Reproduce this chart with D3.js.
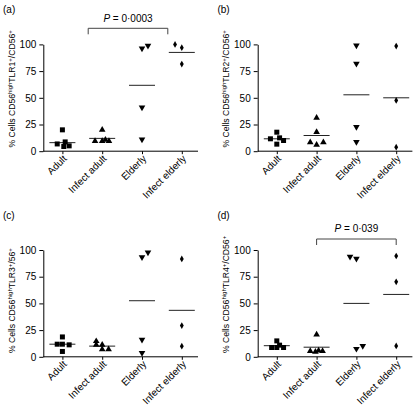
<!DOCTYPE html>
<html><head><meta charset="utf-8">
<script src="https://cdn.jsdelivr.net/npm/d3@7"></script>
<style>
body{margin:0;background:#fff;}
svg{display:block;font-family:"Liberation Sans",Arial,sans-serif;}
</style></head>
<body><svg id="c" width="417" height="413"></svg>
<script>
const categories = ["Adult", "Infect adult", "Elderly", "Infect elderly"];
const yTicks = [0, 25, 50, 75, 100];
const panelLabels = ["(a)", "(b)", "(c)", "(d)"];
const receptorLabels = ["TLR1", "TLR2", "TLR3", "TLR4"];
const denomLabels = ["CD56", "CD56", "56", "CD56"];

// values per category, panel a..d
const valuesA = [[20, 6.8, 8.7, 4.4, 5], [20, 9.4, 9.4, 10.6, 9.4], [96.3, 98.8, 41, 11], [100, 96.9, 81.6]];
const valuesB = [[17.8, 11.6, 12.5, 6.6, 10], [31.3, 17.8, 8.4, 5.9, 8.4], [99, 82, 22.8, 8.8], [98.4, 47.5, 3.8]];
const valuesC = [[18.6, 11.8, 11.8, 11.2, 5], [14.6, 11.2, 11.2, 6.9, 6.9], [93.2, 97.8, 16.1, 3.7], [91.6, 29.2, 9.9]];
const valuesD = [[14.9, 8.7, 8.7, 10.9, 8.7], [20.8, 5.3, 4.7, 5.9, 5.3], [93.8, 91.9, 7.5, 10.2], [94.4, 70.2, 10.2]];
// horizontal jitter in units of category spacing
const jitterA = [[0, -0.13, 0.07, 0.035, 0.17], [0, -0.18, 0, 0.08, 0.17], [0, 0.15, 0, 0], [-0.17, 0, 0]];
const jitterB = [[0, -0.16, 0.07, 0, 0.17], [0, 0, -0.16, 0, 0.17], [0, 0, 0, 0], [0, 0, 0]];
const jitterC = [[0, -0.13, 0, 0.17, 0], [-0.15, -0.15, 0, 0, 0.16], [0, 0.15, 0, 0], [0, 0, 0]];
const jitterD = [[0, -0.13, 0, 0.07, 0.17], [0, -0.16, -0.03, 0.05, 0.15], [-0.16, 0, 0, 0.16], [0, 0, 0]];
// group means (horizontal lines)
const meansA = [8, 12, 61.7, 92.5];
const meansB = [11.6, 14.7, 52.8, 50];
const meansC = [11.8, 10, 52.5, 43.5];
const meansD = [10.4, 9, 50, 58.4];
// significance brackets: [fromCategory, toCategory, text] or null
const sigA = ["Infect adult", "Infect elderly", "0·0003"];
const sigD = ["Infect adult", "Infect elderly", "0·039"];

const panels = [
  {values: valuesA, jitter: jitterA, means: meansA, sig: sigA, ox: 0, oy: 0, bracketShift: -14},
  {values: valuesB, jitter: jitterB, means: meansB, sig: null, ox: 214.4, oy: 0, bracketShift: 0},
  {values: valuesC, jitter: jitterC, means: meansC, sig: null, ox: 0, oy: 205.6, bracketShift: 0},
  {values: valuesD, jitter: jitterD, means: meansD, sig: sigD, ox: 214.4, oy: 205.6, bracketShift: 0}
];

const svg = d3.select("#c");
const symbols = [
  d3.symbol().type(d3.symbolSquare).size(25),
  d3.symbol().type(d3.symbolTriangle).size(19),
  d3.symbol().type(d3.symbolTriangle).size(19),
  d3.symbol().type(d3.symbolDiamond).size(13)
];
const symRot = [0, 0, 180, 0];
const labelFont = 8.6, supFont = 6;

panels.forEach((p, pi) => {
  const g = svg.append("g").attr("transform", `translate(${p.ox},${p.oy})`);
  const axX = 43.3, axRight = 198;
  const x = d3.scalePoint().domain(categories).range([62.4, 181.8]);
  const y = d3.scaleLinear().domain([0, 100]).range([151.2, 44.4]);
  const step = x.step();

  // y axis
  const ya = g.append("g").attr("transform", `translate(${axX},0)`)
    .call(d3.axisLeft(y).tickValues(yTicks).tickSize(4).tickPadding(3).tickSizeOuter(0));
  ya.select(".domain").attr("stroke", "#000");
  ya.selectAll("text").attr("font-size", 10).attr("fill", "#000")
    .attr("font-family", "Liberation Sans, Arial, sans-serif");

  // x axis
  const xa = g.append("g").attr("transform", `translate(0,${y(0)})`);
  xa.append("line").attr("x1", axX).attr("x2", axRight).attr("stroke", "#000");
  xa.call(d3.axisBottom(x).tickSize(3).tickFormat(""))
    .select(".domain").remove();
  xa.selectAll(".tick line").attr("stroke", "#000");
  categories.forEach(c => {
    g.append("text")
      .attr("transform", `translate(${x(c) + 5},${y(0) + 8}) rotate(-45)`)
      .attr("text-anchor", "end").attr("font-size", 10).attr("fill", "#000")
      .text(c);
  });

  // y-axis label
  const lbl = g.append("text")
    .attr("transform", `translate(15,147.5) rotate(-90)`)
    .attr("text-anchor", "start").style("font-size", labelFont + "px").attr("fill", "#000");
  lbl.append("tspan").text("% Cells CD56");
  lbl.append("tspan").style("font-size", supFont + "px").attr("dy", -3.5).text("high");
  lbl.append("tspan").attr("dy", 3.5).text(receptorLabels[pi]);
  lbl.append("tspan").style("font-size", supFont + "px").attr("dy", -3.5).text("+");
  lbl.append("tspan").attr("dy", 3.5).text("/" + denomLabels[pi]);
  lbl.append("tspan").style("font-size", supFont + "px").attr("dy", -3.5).text("+");

  // panel label
  g.append("text").attr("x", 3).attr("y", 13).attr("font-size", 10).attr("fill", "#000")
    .text(panelLabels[pi]);

  // means
  categories.forEach((c, ci) => {
    g.append("line")
      .attr("x1", x(c) - 13).attr("x2", x(c) + 13)
      .attr("y1", y(p.means[ci])).attr("y2", y(p.means[ci]))
      .attr("stroke", "#222").attr("stroke-width", 1);
  });

  // points
  categories.forEach((c, ci) => {
    p.values[ci].forEach((v, k) => {
      g.append("path")
        .attr("d", symbols[ci]())
        .attr("transform", `translate(${x(c) + p.jitter[ci][k] * step},${y(v)}) rotate(${symRot[ci]})`)
        .attr("fill", "#000");
    });
  });

  // significance bracket
  if (p.sig) {
    const x1 = x(p.sig[0]) + p.bracketShift, x2 = x(p.sig[1]) + p.bracketShift;
    const top = pi === 0 ? 28.3 : 33.4;
    const bot = top + 6;
    g.append("path")
      .attr("d", `M${x1},${bot}V${top}H${x2}V${bot}`)
      .attr("fill", "none").attr("stroke", "#444").attr("stroke-width", 1);
    const t = g.append("text").attr("x", (x1 + x2) / 2).attr("y", top - 6.5)
      .attr("text-anchor", "middle").attr("font-size", 10).attr("fill", "#000");
    t.append("tspan").attr("font-style", "italic").text("P");
    t.append("tspan").text(" = " + p.sig[2]);
  }
});
</script></body></html>
